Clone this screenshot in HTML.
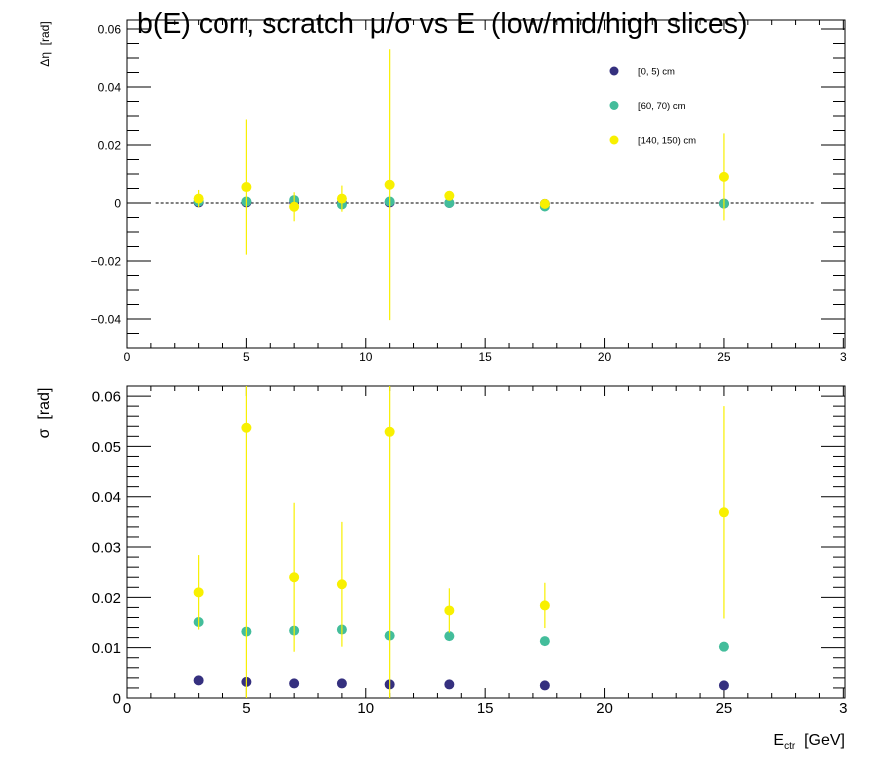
<!DOCTYPE html>
<html><head><meta charset="utf-8"><style>
body{margin:0;background:#fff;}
svg{display:block;font-family:"Liberation Sans",sans-serif;}
text{white-space:pre;}
</style></head><body>
<svg id="c" width="896" height="772"></svg>
<script>
const energies=[3,5,7,9,11,13.5,17.5,25];
const seriesNames=["[0, 5) cm","[60, 70) cm","[140, 150) cm"];
const seriesColors=["#35307f","#43bd9b","#f8f000"];
const muLow=[0.0002,0.0002,0.0003,0.0001,0.0002,0.0000,-0.0003,-0.0002];
const muMid=[0.0005,0.0005,0.0010,-0.0005,0.0005,0.0000,-0.0012,-0.0002];
const muHigh=[0.0015,0.0055,-0.0013,0.0015,0.0063,0.0025,-0.0003,0.0090];
const muHighErr=[0.0030,0.0233,0.0050,0.0045,0.0467,0.0012,0.0010,0.0150];
const sigLow=[0.0035,0.0032,0.0029,0.0029,0.0027,0.0027,0.0025,0.0025];
const sigMid=[0.0151,0.0132,0.0134,0.0136,0.0124,0.0123,0.0113,0.0102];
const sigHigh=[0.0210,0.0537,0.0240,0.0226,0.0529,0.0174,0.0184,0.0369];
const sigHighErr=[0.0074,0.0540,0.0148,0.0124,0.0530,0.0044,0.0045,0.0211];
const xTicks=[0,5,10,15,20,25,30];
const xTickLabels=["0","5","10","15","20","25","3"];
const topYTicks=[-0.04,-0.02,0,0.02,0.04,0.06];
const topYLabels=["\u22120.04","\u22120.02","0","0.02","0.04","0.06"];
const botYTicks=[0,0.01,0.02,0.03,0.04,0.05,0.06];
const botYLabels=["0","0.01","0.02","0.03","0.04","0.05","0.06"];

const svg=document.getElementById('c');
const NS="http://www.w3.org/2000/svg";
function mk(t,a,p){const e=document.createElementNS(NS,t);for(const k in a)e.setAttribute(k,a[k]);(p||svg).appendChild(e);return e;}
const L=127,R=845;
const xs=v=>L+(v/30.07)*(R-L);
function panel(name,top,bot,ymin,ymax,yt,yl,fs,ndiv,labOff){
  const g=mk('g',{});
  
  
  const ys=v=>bot-(v-ymin)/(ymax-ymin)*(bot-top);
  const fr=mk('rect',{x:L,y:top,width:R-L,height:bot-top,fill:'none',stroke:'#000','stroke-width':1},g);
  
  for(let v=0;v<=30;v++){const major=v%5===0;const len=major?10:5;const x=xs(v);
    mk('line',{x1:x,x2:x,y1:bot,y2:bot-len,stroke:'#000'},g);
    mk('line',{x1:x,x2:x,y1:top,y2:top+len,stroke:'#000'},g);}
  xTicks.forEach((v,i)=>{const t=mk('text',{x:xs(v),y:bot+labOff,'text-anchor':'middle','font-size':fs},g);t.textContent=xTickLabels[i];
    });
  const step=(yt[1]-yt[0]);const minor=step/ndiv;
  for(let k=Math.ceil(ymin/minor-1e-6);k*minor<=ymax+1e-9;k++){const v=k*minor;const major=k%ndiv===0;const len=major?24:12;const y=ys(v);
    mk('line',{x1:L,x2:L+len,y1:y,y2:y,stroke:'#000'},g);
    mk('line',{x1:R,x2:R-len,y1:y,y2:y,stroke:'#000'},g);}
  yt.forEach((v,i)=>{const t=mk('text',{x:L-6,y:ys(v)+fs*0.36,'text-anchor':'end','font-size':fs},g);t.textContent=yl[i];
    });
  return {g,ys,bot};
}
function drawSeries(p,vals,errs,color,top,name){
  energies.forEach((e,i)=>{
    if(errs){const y1=Math.max(top,p.ys(vals[i]+errs[i]));const y2=Math.min(p.bot,p.ys(vals[i]-errs[i]));
      const l=mk('line',{x1:xs(e),x2:xs(e),y1:y1,y2:y2,stroke:color,'stroke-width':1.2},p.g);
      }
    const c=mk('circle',{cx:xs(e),cy:p.ys(vals[i]),r:5,fill:color},p.g);
    
  });
}
const p1=panel('mean-panel',20,348,-0.05,0.0631,topYTicks,topYLabels,12,4,13);
const zl=mk('line',{x1:xs(1.2),x2:xs(28.8),y1:p1.ys(0),y2:p1.ys(0),stroke:'#000','stroke-dasharray':'3,2'},p1.g);

drawSeries(p1,muLow,null,seriesColors[0],20,'low-mean');
drawSeries(p1,muMid,null,seriesColors[1],20,'mid-mean');
drawSeries(p1,muHigh,muHighErr,seriesColors[2],20,'high-mean');
const p2=panel('sigma-panel',386,698,0,0.0620,botYTicks,botYLabels,15,5,15);
drawSeries(p2,sigLow,null,seriesColors[0],386,'low-sigma');
drawSeries(p2,sigMid,null,seriesColors[1],386,'mid-sigma');
drawSeries(p2,sigHigh,sigHighErr,seriesColors[2],386,'high-sigma');
const lg=mk('g',{});


seriesNames.forEach((n,i)=>{const y=71+i*34.5;
  const c=mk('circle',{cx:614,cy:y,r:4.5,fill:seriesColors[i]},lg);
  
  const t=mk('text',{x:638,y:y+3.5,'font-size':9.5},lg);t.textContent=n;
  });
let t=mk('text',{x:137,y:33,'font-size':28.5});t.textContent="b(E) corr, scratch  \u03bc/\u03c3 vs E  (low/mid/high slices)";

t=mk('text',{x:0,y:0,'font-size':12,'text-anchor':'middle',transform:'translate(49,44) rotate(-90)'});t.textContent="\u0394\u03b7  [rad]";

t=mk('text',{x:0,y:0,'font-size':16,'text-anchor':'middle',transform:'translate(49,413) rotate(-90)'});t.textContent="\u03c3  [rad]";

t=mk('text',{x:845,y:745,'font-size':16,'text-anchor':'end'});
t.innerHTML='E<tspan font-size="10" dy="4">ctr</tspan><tspan dy="-4">  [GeV]</tspan>';

</script>
</body></html>
